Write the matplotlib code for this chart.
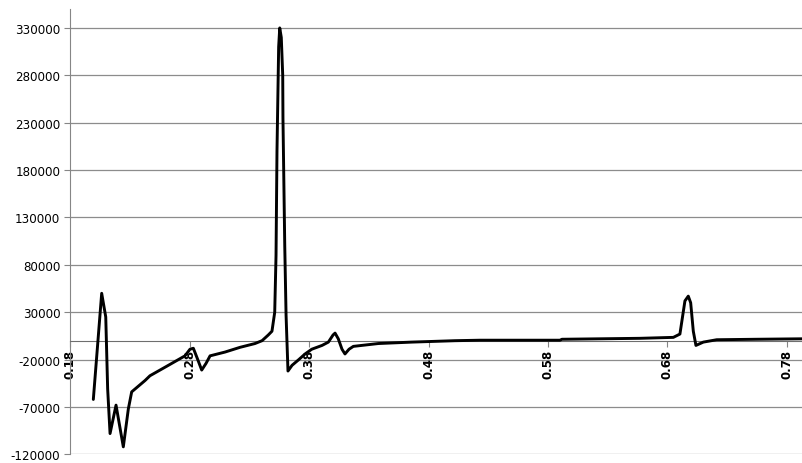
import numpy as np
import matplotlib
matplotlib.use("Agg")
import matplotlib.pyplot as plt

# signal (x position, value)
xs = [0.1995, 0.2065, 0.2099, 0.2115, 0.2135, 0.2185, 0.2246, 0.2288, 0.2316,
      0.2428, 0.2469, 0.2609, 0.2762, 0.2804, 0.2832, 0.2863, 0.2902, 0.2938,
      0.2972, 0.3097, 0.3223, 0.3348, 0.3407, 0.3459, 0.3490, 0.3513, 0.3524,
      0.3532, 0.3546, 0.3555, 0.3568, 0.3580, 0.3582, 0.3597, 0.3608, 0.3624,
      0.3658, 0.3714, 0.3767, 0.3823, 0.3909, 0.3962, 0.4001, 0.4018, 0.4045,
      0.4076, 0.4101, 0.4135, 0.4171, 0.4380, 0.4659, 0.5022, 0.5231, 0.5900,
      0.5917, 0.6570, 0.6849, 0.6904, 0.6946, 0.6974, 0.6994, 0.7016, 0.7038,
      0.7100, 0.7212, 0.7546, 0.7934]
ys = [-62000, 50000, 25000, -51000, -98000, -68000, -112000, -72000, -54000,
      -42000, -37000, -27000, -16000, -9000, -8000, -18000, -31000, -24000,
      -16000, -12000, -7000, -3000, 0, 6000, 10000, 30000, 90000,
      200000, 310000, 330000, 320000, 280000, 235000, 100000, 27000, -32000,
      -26000, -20000, -14000, -9000, -5000, -1500, 6000, 8000, 2000,
      -9000, -14000, -9000, -6000, -3000, -1500, 0, 500, 500,
      1500, 2500, 3500, 7000, 42000, 47000, 40000, 10000, -5000,
      -1500, 1000, 1500, 2000]

x_ticks = [0.18, 0.28, 0.38, 0.48, 0.58, 0.68, 0.78]
y_ticks = np.arange(-120000, 330001, 50000)

fig = plt.figure(figsize=(8.03, 4.64), dpi=100)
ax = fig.add_axes([0.0872, 0.0185, 0.9128, 0.96])

# the category axis crosses the value axis at zero, as in the spreadsheet
ax.spines['top'].set_visible(False)
ax.spines['right'].set_visible(False)
ax.spines['bottom'].set_position(('data', 0))
ax.spines['bottom'].set_color('#6e6e6e')
ax.spines['left'].set_color('#868686')

for yt in y_ticks:
    ax.axhline(yt, color='#8c8c8c', lw=0.9, zorder=0)

ax.plot(xs, ys, color='black', lw=2.1, solid_joinstyle='round',
        solid_capstyle='round', zorder=3)

ax.set_xlim(0.18, 0.7934)
ax.set_ylim(-120000, 350000)

ax.set_yticks(y_ticks)
ax.set_yticklabels([str(v) for v in y_ticks], fontsize=8.6)
ax.set_xticks(x_ticks)
ax.set_xticklabels([f"{v:.2f}" for v in x_ticks], rotation=90,
                   fontsize=8.5, fontweight='bold', va='top', ha='center')

ax.tick_params(axis='y', length=4, color='#868686', pad=3)
ax.tick_params(axis='x', length=4, color='#868686', pad=2)

fig.savefig('out.png', dpi=100)
